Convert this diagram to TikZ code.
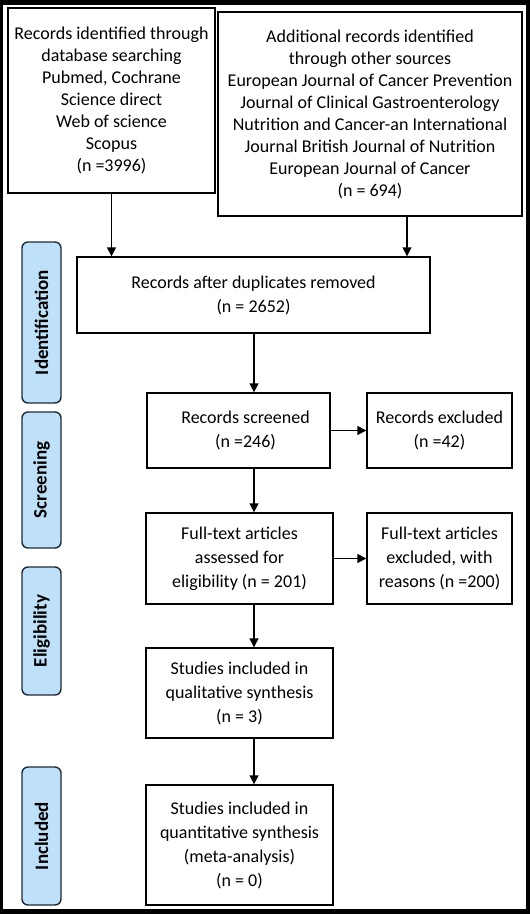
\documentclass[tikz,border=0pt]{standalone}
\usepackage{fontspec}
\setmainfont{Carlito}
\usetikzlibrary{arrows.meta}
\definecolor{phase}{RGB}{190,224,248}
\definecolor{phaseline}{RGB}{30,42,56}
\tikzset{
  box/.style={draw, line width=1.4pt, align=center, inner sep=2pt,
    font=\fontsize{18}{24}\selectfont},
  topbox/.style={box, font=\fontsize{18}{22}\selectfont},
  phasebox/.style={draw=phaseline, fill=phase, line width=1.4pt, rounded corners=6pt,
    rotate=90, minimum height=39pt, font=\bfseries\fontsize{19}{22}\selectfont},
  arr/.style={line width=1.4pt, -{Triangle[length=9pt,width=9pt]}}
}
\begin{document}
\begin{tikzpicture}[x=1pt,y=-1pt]
\useasboundingbox (0,0) rectangle (530,914);
\fill (0,0) rectangle (530,914);
\fill[white] (3,5) rectangle (526,909);
\path (111.5,100.5) node[topbox, minimum width=207, minimum height=185] (ident) {Records identified through\\ database searching\\ Pubmed, Cochrane\\ Science direct\\ Web of science\\ Scopus\\ (n =3996)};
\path (370,114) node[topbox, minimum width=304, minimum height=204] (other) {Additional records identified\\ through other sources\\ European Journal of Cancer Prevention\\ Journal of Clinical Gastroenterology\\ Nutrition and Cancer-an International\\ Journal British Journal of Nutrition\\ European Journal of Cancer\\ (n = 694)};
\path (253.5,295) node[box, minimum width=353, minimum height=76] (dupl) {Records after duplicates removed\\ (n = 2652)};
\path (238.5,430.5) node[box, minimum width=183, minimum height=75] (screen) {\hspace{14pt}Records screened\\ \hspace{14pt}(n =246)};
\path (439.5,430.5) node[box, minimum width=145, minimum height=75] (excl) {Records excluded\\ (n =42)};
\path (239.5,558.5) node[box, minimum width=187, minimum height=91] (full) {Full-text articles\\ assessed for\\ eligibility (n = 201)};
\path (439.5,558.5) node[box, minimum width=145, minimum height=91] (fullex) {Full-text articles\\ excluded, with\\ reasons (n =200)};
\path (239.5,693) node[box, minimum width=187, minimum height=90] (qual) {Studies included in\\ qualitative synthesis\\ (n = 3)};
\path (239.5,845) node[box, minimum width=187, minimum height=120] (quant) {Studies included in\\ quantitative synthesis\\ (meta-analysis)\\ (n = 0)};
\path (41.5,322.5) node[phasebox, minimum width=161] (pident) {Identification};
\path (41.5,480) node[phasebox, minimum width=136] (pscreen) {Screening};
\path (41.5,631) node[phasebox, minimum width=128] (pelig) {Eligibility};
\path (41.5,836) node[phasebox, minimum width=138] (pincl) {Included};
\coordinate (spine) at (254,0);
\coordinate (right) at (407,0);
\draw[arr] (ident.south) -- (ident.south |- dupl.north);
\draw[arr] (right |- other.south) -- (right |- dupl.north);
\draw[arr] (spine |- dupl.south) -- (spine |- screen.north);
\draw[arr] (screen.east) -- (excl.west);
\draw[arr] (spine |- screen.south) -- (spine |- full.north);
\draw[arr] (full.east) -- (fullex.west);
\draw[arr] (spine |- full.south) -- (spine |- qual.north);
\draw[arr] (spine |- qual.south) -- (spine |- quant.north);
\end{tikzpicture}
\end{document}
